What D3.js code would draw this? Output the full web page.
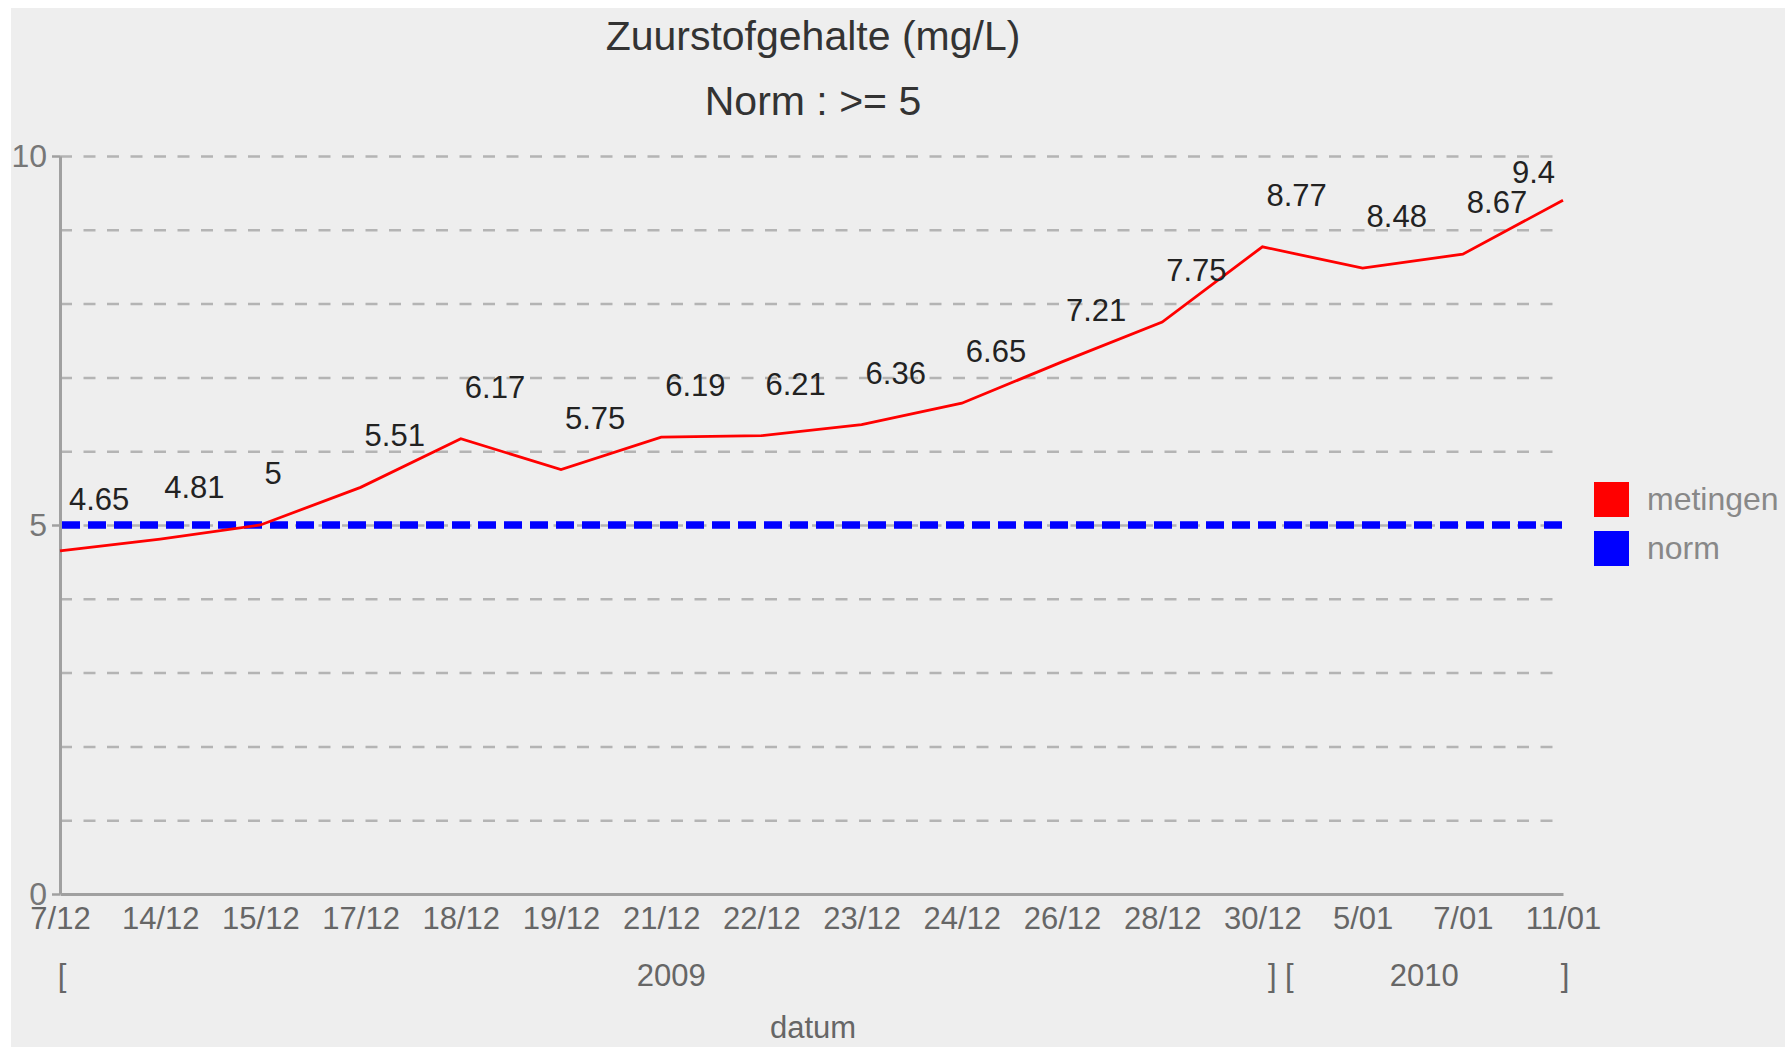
<!DOCTYPE html>
<html>
<head>
<meta charset="utf-8">
<script src="https://cdn.jsdelivr.net/npm/d3@7/dist/d3.min.js"></script>
<style>
body { margin: 0; background: #fff; }
text { font-family: "Liberation Sans", Arial, sans-serif; }
</style>
</head>
<body>
<div id="chart"></div>
<script>
var dates = ["7/12", "14/12", "15/12", "17/12", "18/12", "19/12", "21/12", "22/12",
             "23/12", "24/12", "26/12", "28/12", "30/12", "5/01", "7/01", "11/01"];
var metingen = [4.65, 4.81, 5, 5.51, 6.17, 5.75, 6.19, 6.21, 6.36, 6.65, 7.21, 7.75, 8.77, 8.48, 8.67, 9.4];
var normValue = 5;
var yTicks = [0, 5, 10];
var gridTicks = [1, 2, 3, 4, 5, 6, 7, 8, 9, 10];
var years = ["2009", "2010"];
var yearFirst = [0, 13];
var yearLast = [12, 15];
var legendNames = ["metingen", "norm"];
var legendColors = ["#ff0000", "#0000ff"];

var svgWidth = 1785, svgHeight = 1047;
var plotLeft = 60, plotRight = 1563, plotTop = 156, plotBottom = 894;

var svg = d3.select("#chart").append("svg")
    .attr("width", svgWidth)
    .attr("height", svgHeight);

svg.append("rect")
    .attr("x", 11).attr("y", 8)
    .attr("width", svgWidth - 11).attr("height", svgHeight - 8)
    .style("fill", "#eeeeee");

var xScale = d3.scalePoint().domain(dates).range([plotLeft, plotRight]);
var yScale = d3.scaleLinear().domain([0, 10]).range([plotBottom, plotTop]);

// titles
svg.append("text").attr("x", 813).attr("y", 50)
    .attr("text-anchor", "middle").style("font-size", "41px").style("fill", "#333")
    .text("Zuurstofgehalte (mg/L)");
svg.append("text").attr("x", 813).attr("y", 115)
    .attr("text-anchor", "middle").style("font-size", "41px").style("fill", "#333")
    .text("Norm : >= 5");

// grid
var grid = svg.append("g")
    .attr("transform", "translate(" + plotLeft + ",0)")
    .call(d3.axisLeft(yScale).tickValues(gridTicks).tickSize(-(plotRight - plotLeft)).tickFormat(""));
grid.select(".domain").remove();
grid.selectAll("line")
    .style("stroke", "#b4b4b4")
    .style("stroke-width", 2.5)
    .style("stroke-dasharray", "12,11.5");

// y axis
var yAxis = svg.append("g")
    .attr("transform", "translate(" + plotLeft + ",0)")
    .call(d3.axisLeft(yScale).tickValues(yTicks).tickSize(8).tickSizeOuter(0).tickPadding(5));
yAxis.select(".domain").style("stroke", "#a0a0a0").style("stroke-width", 3);
yAxis.selectAll("line").style("stroke", "#a0a0a0").style("stroke-width", 2.5);
yAxis.selectAll("text").style("font-size", "32px").style("fill", "#777")
    .style("font-family", "'Liberation Sans', Arial, sans-serif");

// x axis
var xAxis = svg.append("g")
    .attr("transform", "translate(0," + plotBottom + ")")
    .call(d3.axisBottom(xScale).tickSize(0).tickSizeOuter(0).tickPadding(13));
xAxis.select(".domain").style("stroke", "#a0a0a0").style("stroke-width", 3);
xAxis.selectAll("text").style("font-size", "31px").style("fill", "#666")
    .style("font-family", "'Liberation Sans', Arial, sans-serif");

// year brackets
var brackets = [];
years.forEach(function(y, i) {
    var x0 = i == 0 ? xScale(dates[yearFirst[i]]) + 2 : xScale(dates[yearLast[0]]) + 27;
    var x1 = i == 0 ? xScale(dates[yearLast[i]]) + 10 : xScale(dates[yearLast[i]]) + 2;
    brackets.push({t: "[", x: x0});
    brackets.push({t: "]", x: x1});
    brackets.push({t: y, x: (x0 + x1) / 2 + (i == 0 ? 4 : -3)});
});
svg.selectAll(".yr").data(brackets).enter().append("text")
    .attr("class", "yr")
    .attr("x", function(d) { return d.x; })
    .attr("y", 986)
    .attr("text-anchor", "middle")
    .style("font-size", "31px").style("fill", "#666")
    .text(function(d) { return d.t; });

svg.append("text").attr("x", 813).attr("y", 1038)
    .attr("text-anchor", "middle").style("font-size", "31px").style("fill", "#666")
    .text("datum");

// norm line
svg.append("line")
    .attr("x1", plotLeft + 2).attr("x2", plotRight)
    .attr("y1", yScale(normValue)).attr("y2", yScale(normValue))
    .style("stroke", "#0000ff").style("stroke-width", 7.5).style("stroke-dasharray", "18,8");

// metingen line
var line = d3.line()
    .x(function(d, i) { return xScale(dates[i]); })
    .y(function(d) { return yScale(d); });
svg.append("path").datum(metingen)
    .attr("d", line)
    .style("fill", "none").style("stroke", "#ff0000").style("stroke-width", 2.8);

// value labels
svg.selectAll(".val").data(metingen).enter().append("text")
    .attr("class", "val")
    .style("font-size", "31px").style("fill", "#222")
    .text(function(d) { return d; })
    .each(function(d, i) {
        var w = this.getComputedTextLength();
        var x = xScale(dates[i]) + 4;
        x = Math.max(x, plotLeft + 9);
        x = Math.min(x, plotRight - 8 - w);
        var y = Math.max(yScale(d) - 41, plotTop + 27);
        d3.select(this).attr("x", x).attr("y", y);
    });

// legend
var legend = svg.selectAll(".leg").data(legendNames).enter().append("g")
    .attr("class", "leg")
    .attr("transform", function(d, i) { return "translate(1594," + (482 + i * 49) + ")"; });
legend.append("rect").attr("width", 35).attr("height", 35)
    .style("fill", function(d, i) { return legendColors[i]; });
legend.append("text").attr("x", 53).attr("y", 28)
    .style("font-size", "32px").style("fill", "#888")
    .text(function(d) { return d; });
</script>
</body>
</html>
